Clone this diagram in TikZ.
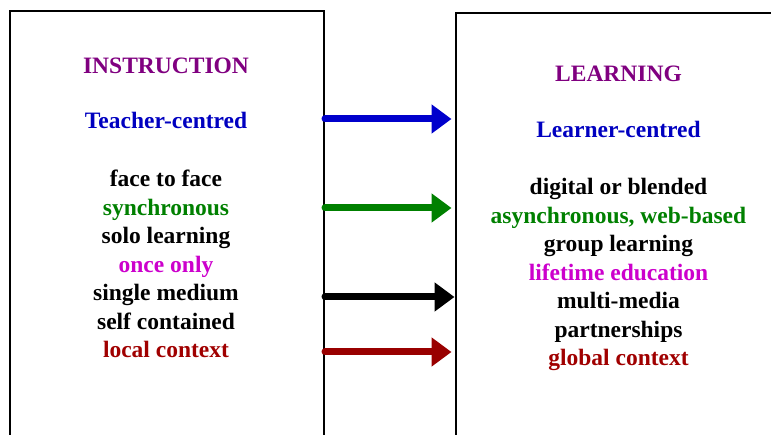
\documentclass[tikz,border=0pt]{standalone}
\usepackage{fontspec}
\setmainfont{Liberation Serif}
\usetikzlibrary{arrows.meta}
\definecolor{cpurple}{HTML}{800080}
\definecolor{cblue}{HTML}{0000C0}
\definecolor{cgreen}{HTML}{008000}
\definecolor{cmag}{HTML}{CC00CC}
\definecolor{cred}{HTML}{A00000}
\definecolor{ablue}{HTML}{0000CC}
\definecolor{ared}{HTML}{990000}
\tikzset{
  panel/.style={draw=black, line width=2pt, anchor=north west, inner sep=0pt},
  txt/.style={anchor=base, inner sep=0pt, font=\fontsize{23.5}{28}\selectfont\bfseries},
  arr/.style={line width=7pt, line cap=round, -{Triangle[length=20pt,width=28pt]}}
}
\begin{document}
\begin{tikzpicture}[x=1pt,y=1pt]
\useasboundingbox (0,0) rectangle (771,-435);
\clip (0,0) rectangle (771,-435);
\node[panel, minimum width=314.5pt, minimum height=450pt] (lbox) at (8.5,-10) {};
\node[panel, minimum width=340pt, minimum height=450pt] (rbox) at (454.5,-12) {};
% left texts
\node[txt, text=cpurple] (l0) at (166,-74) {INSTRUCTION};
\node[txt, text=cblue] (l1) at (166,-129) {Teacher-centred};
\node[txt, text=black] (l2) at (166,-187) {face to face};
\node[txt, text=cgreen] (l3) at (166,-215.5) {synchronous};
\node[txt, text=black] (l4) at (166,-244) {solo learning};
\node[txt, text=cmag] (l5) at (166,-272.5) {once only};
\node[txt, text=black] (l6) at (166,-301) {single medium};
\node[txt, text=black] (l7) at (166,-329.5) {self contained};
\node[txt, text=cred] (l8) at (166,-358) {local context};
% right texts
\node[txt, text=cpurple] (r0) at (618.5,-82) {LEARNING};
\node[txt, text=cblue] (r1) at (618.5,-138) {Learner-centred};
\node[txt, text=black] (r2) at (618.5,-195) {digital or blended};
\node[txt, text=cgreen] (r3) at (618.5,-223.5) {asynchronous, web-based};
\node[txt, text=black] (r4) at (618.5,-252) {group learning};
\node[txt, text=cmag] (r5) at (618.5,-280.5) {lifetime education};
\node[txt, text=black] (r6) at (618.5,-309) {multi-media};
\node[txt, text=black] (r7) at (618.5,-337.5) {partnerships};
\node[txt, text=cred] (r8) at (618.5,-366) {global context};
% arrow rows
\coordinate (y1) at (0,-119);
\coordinate (y2) at (0,-208);
\coordinate (y3) at (0,-297);
\coordinate (y4) at (0,-352);
\draw[arr, ablue] (lbox.east |- y1) -- ([xshift=-3pt]rbox.west |- y1);
\draw[arr, cgreen] (lbox.east |- y2) -- ([xshift=-3pt]rbox.west |- y2);
\draw[arr, black] (lbox.east |- y3) -- (rbox.west |- y3);
\draw[arr, ared] (lbox.east |- y4) -- ([xshift=-3pt]rbox.west |- y4);
\end{tikzpicture}
\end{document}
